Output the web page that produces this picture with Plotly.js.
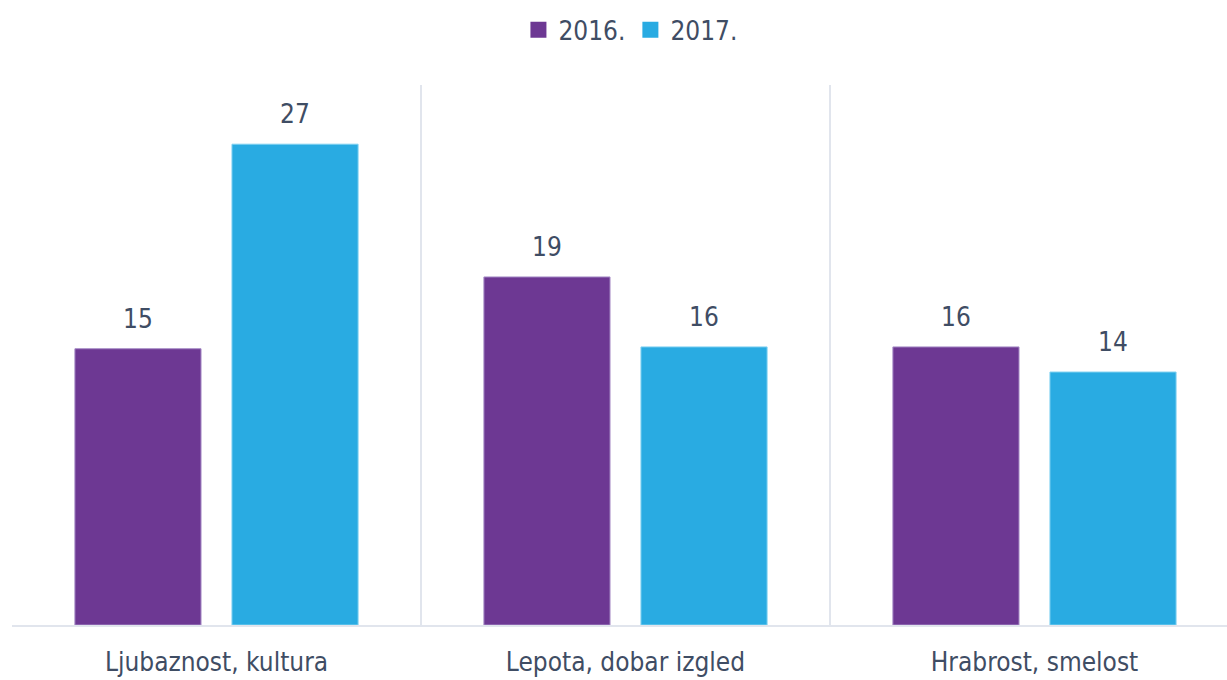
<!DOCTYPE html>
<html>
<head>
<meta charset="utf-8">
<script src="https://cdn.plot.ly/plotly-3.0.1.min.js"></script>
<style>
  html, body { margin: 0; padding: 0; background: #ffffff; }
  #chart { width: 1227px; height: 680px; }
</style>
</head>
<body>
<div id="chart"></div>
<script>
// ---- data ----
const categories = ['Ljubaznost, kultura', 'Lepota, dobar izgled', 'Hrabrost, smelost'];
const seriesNames = ['2016.', '2017.'];
const values2016 = [15.4, 19.4, 15.5];
const values2017 = [26.8, 15.5, 14.1];
const labels2016 = ['15', '19', '16'];
const labels2017 = ['27', '16', '14'];

// ---- styling ----
const FONT = '"DejaVu Sans Condensed", "Noto Sans", sans-serif';
const TEXT_COLOR = '#3f4d64';
const COLORS = ['#6d3893', '#29abe2'];
const EDGE = ['#a68bc6', '#7fd0f1'];
const GRID = '#e1e5ed';
const FS = 26;

const series = [values2016, values2017];
const labels = [labels2016, labels2017];
const font = { family: FONT, size: FS, color: TEXT_COLOR };

const traces = [];
series.forEach((vals, i) => {
  traces.push({
    type: 'bar',
    x: categories,
    y: vals,
    name: seriesNames[i],
    showlegend: false,
    marker: { color: COLORS[i], line: { color: EDGE[i], width: 1 } },
    hoverinfo: 'x+y'
  });
});
// legend entries (larger square swatches)
seriesNames.forEach((n, i) => {
  traces.push({
    type: 'scatter', mode: 'markers',
    x: [null], y: [null], name: n,
    marker: { symbol: 'square', size: 16, color: COLORS[i] },
    hoverinfo: 'skip'
  });
});

// value labels above each bar, anchored in data coordinates
const annotations = [];
const groupHalf = 78.5; // half distance between the two bars of a group (px)
series.forEach((vals, i) => {
  vals.forEach((v, j) => {
    annotations.push({
      x: categories[j], y: v, xref: 'x', yref: 'y',
      text: labels[i][j],
      showarrow: false,
      xanchor: 'center', yanchor: 'bottom',
      xshift: i === 0 ? -groupHalf : groupHalf,
      yshift: 13,
      font: font
    });
  });
});

const layout = {
  width: 1227, height: 680,
  margin: { l: 12, r: 0, t: 85, b: 55, pad: 0 },
  paper_bgcolor: '#ffffff', plot_bgcolor: '#ffffff',
  font: font,
  barmode: 'group',
  bargap: 0.232,
  bargroupgap: 0.197,
  xaxis: {
    type: 'category',
    range: [-0.5, 2.4707],
    tickson: 'boundaries',
    showgrid: true, gridcolor: GRID, gridwidth: 2,
    showline: true, linecolor: GRID, linewidth: 2,
    ticks: '', zeroline: false,
    tickfont: font,
    ticklabelstandoff: 13,
    fixedrange: true
  },
  yaxis: {
    range: [0, 30.1],
    visible: false, showgrid: false, zeroline: false,
    fixedrange: true
  },
  legend: {
    orientation: 'h',
    x: 0.509, xanchor: 'center',
    y: 1.102, yanchor: 'middle',
    font: font,
    itemwidth: 30,
    bgcolor: 'rgba(0,0,0,0)'
  },
  annotations: annotations,
  showlegend: true
};

Plotly.newPlot('chart', traces, layout, { displayModeBar: false, staticPlot: true });
</script>
</body>
</html>
